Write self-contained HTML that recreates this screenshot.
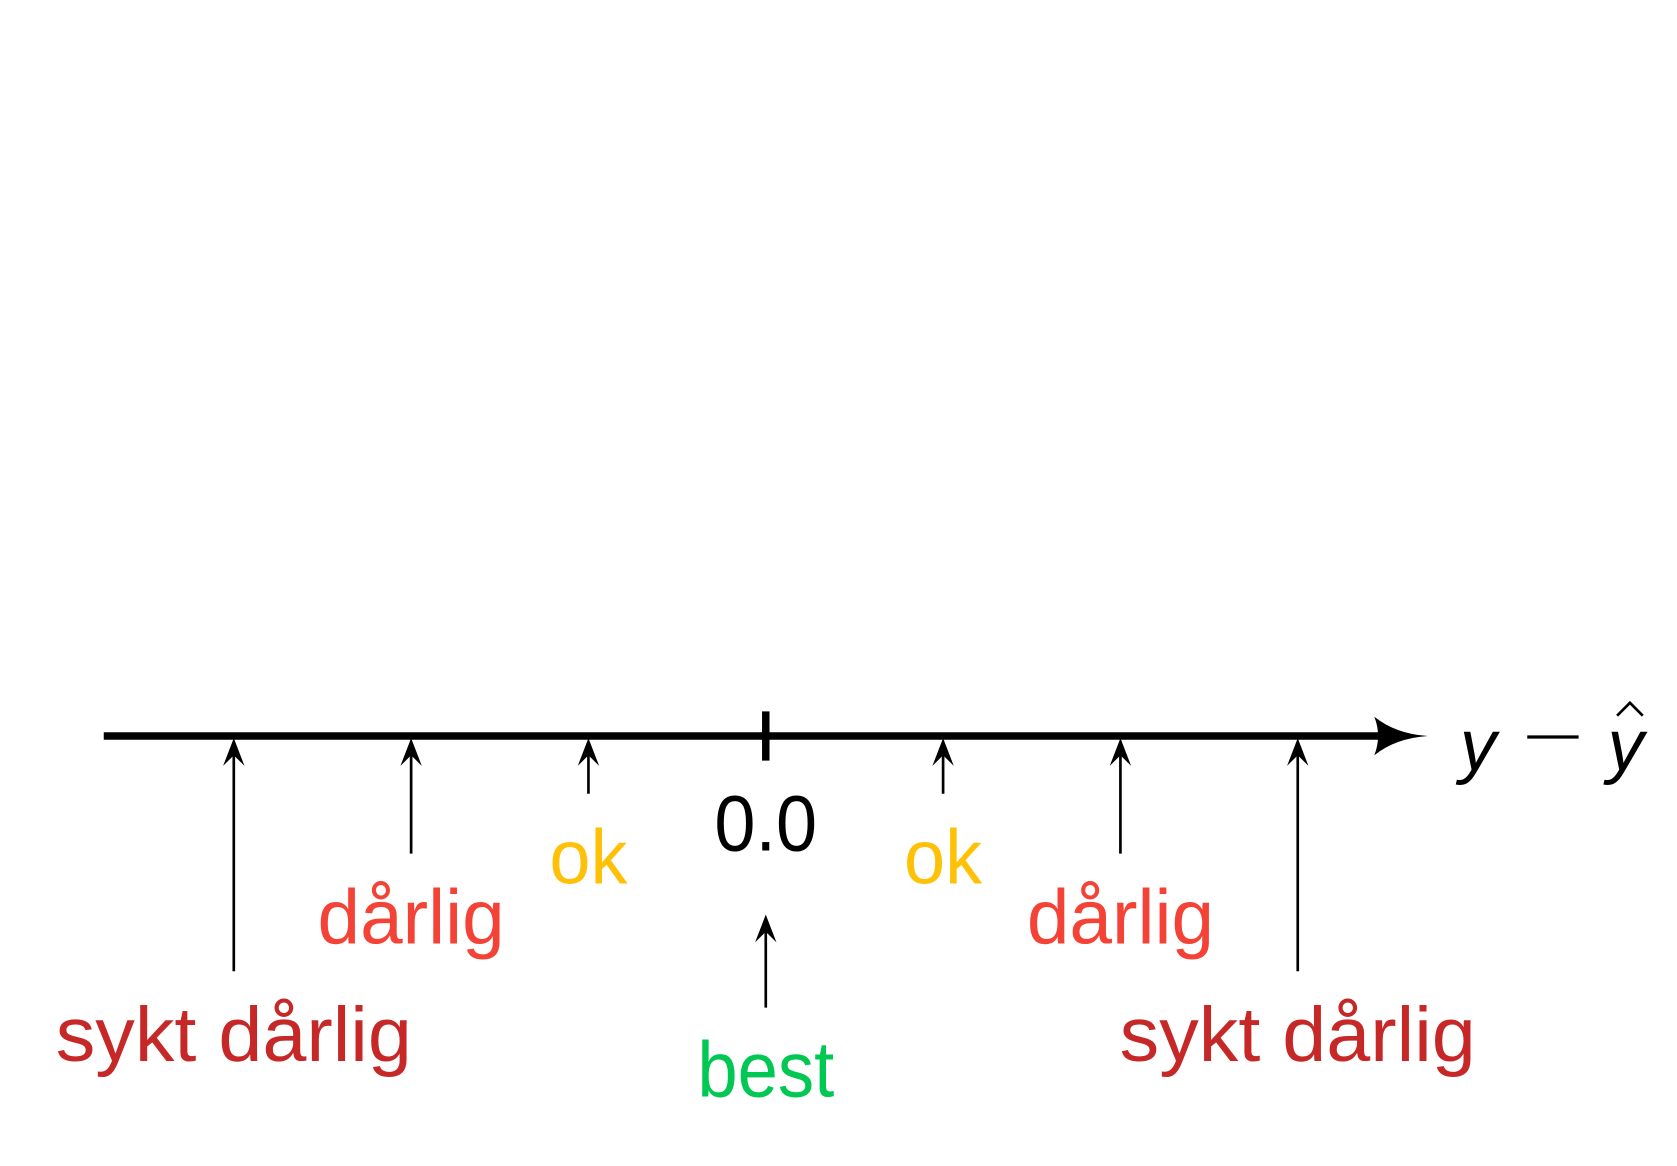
<!DOCTYPE html>
<html><head><meta charset="utf-8"><style>
html,body{margin:0;padding:0;background:#fff;width:1677px;height:1166px;overflow:hidden}
svg{display:block}
text{font-family:"Liberation Sans","DejaVu Sans",sans-serif}
</style></head><body>
<svg id="chart" width="1677" height="1166" viewBox="0 0 1568 1090" preserveAspectRatio="none" xmlns="http://www.w3.org/2000/svg">
<g id="axis">
<line x1="97" y1="688" x2="1295" y2="688" stroke="#000" stroke-width="7"/>
<path d="M1285,670 Q1305,686 1335,688 Q1305,690 1285,706 Q1292,688 1285,670Z" fill="#000"/>
<text x="1365" y="720" font-family="Liberation Serif,serif" font-style="italic" font-size="68">y</text>
<line x1="1428" y1="689" x2="1476" y2="689" stroke="#000" stroke-width="3"/>
<text x="1503" y="720" font-family="Liberation Serif,serif" font-style="italic" font-size="68">y</text>
<path d="M1512,669 L1524,657 L1536,669" fill="none" stroke="#000" stroke-width="2.5"/>
</g>
<g id="marks"></g>
</svg>
<script>
const values = [-3, -2, -1, 1, 2, 3];
const labels = ["sykt dårlig", "dårlig", "ok", "ok", "dårlig", "sykt dårlig"];
const arrowLengths = [220, 110, 54, 54, 110, 220];
const zeroTick = 0;
const zeroLabel = "0.0";
const bestLabel = "best";
const xScale = v => 716 + v * 165.8;
const axisY = 688;
const colorFor = ["#c62828","#f44336","#ffc107","#ffc107","#f44336","#c62828"];
const widthFor = [333,175,73,73,175,333];
const ns = "http://www.w3.org/2000/svg";
const g = document.getElementById("marks");
function mk(tag, attrs){const e=document.createElementNS(ns,tag);for(const k in attrs)e.setAttribute(k,attrs[k]);g.appendChild(e);return e;}
function arrow(x, y1, y2, name){
  const l=mk("line",{x1:x,y1:y2,x2:x,y2:y1+4,stroke:"#000","stroke-width":2.5});
  
  
  const h=mk("path",{d:`M${x-10},${y1+26} L${x},${y1} L${x+10},${y1+26} L${x},${y1+16}Z`,fill:"#000"});
  
  
}
values.forEach((v,i)=>{
  const x=xScale(v);
  const bottom=axisY+arrowLengths[i];
  arrow(x, axisY+2, bottom, 'arrow-'+i);
  const t=mk("text",{x:x,y:bottom+84,"text-anchor":"middle","font-size":72,fill:colorFor[i],textLength:widthFor[i],lengthAdjust:"spacingAndGlyphs"});
  t.textContent=labels[i];
  
  
});
const zx=xScale(zeroTick);
const tk=mk("line",{x1:zx,y1:665,x2:zx,y2:711,stroke:"#000","stroke-width":7});


const zt=mk("text",{x:zx,y:795,"text-anchor":"middle","font-size":74,fill:"#000",textLength:96,lengthAdjust:"spacingAndGlyphs"});
zt.textContent=zeroLabel;


arrow(zx, 855, 942, 'best-arrow');
const bt=mk("text",{x:zx,y:1025,"text-anchor":"middle","font-size":74,fill:"#00c853",textLength:128,lengthAdjust:"spacingAndGlyphs"});
bt.textContent=bestLabel;


</script>
</body></html>
